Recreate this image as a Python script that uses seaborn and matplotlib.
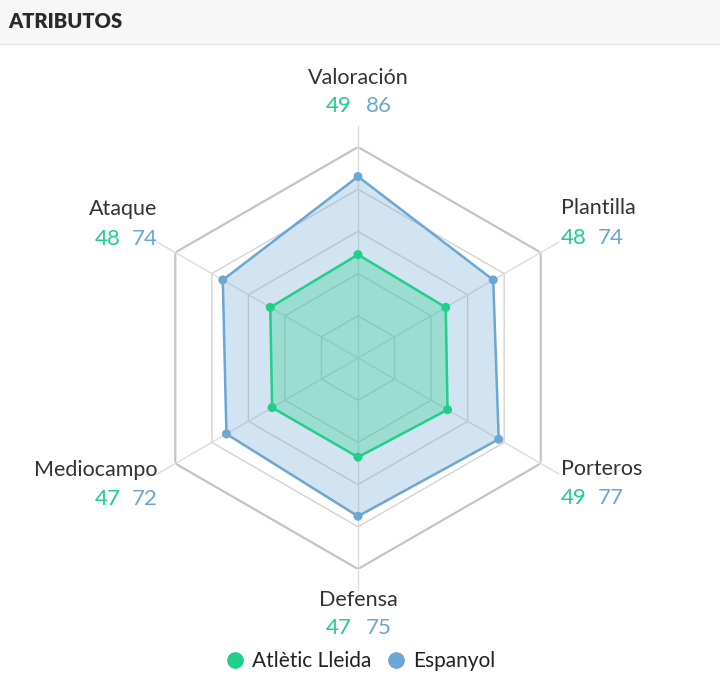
import numpy as np
import seaborn as sns
import matplotlib.pyplot as plt
from matplotlib.lines import Line2D
from matplotlib.patches import Rectangle

sns.set_style("white")
plt.rcParams['font.family'] = ['Lato', 'DejaVu Sans']

# data
attributes = ['Valoración', 'Plantilla', 'Porteros', 'Defensa', 'Mediocampo', 'Ataque']
lleida = [49, 48, 49, 47, 47, 48]
espanyol = [86, 74, 77, 75, 72, 74]
teams = ['Atlètic Lleida', 'Espanyol']
levels = [20, 40, 60, 80, 100]

green = '#1fcf8a'
blue = '#6ca6d3'
text_dark = '#333333'

fig = plt.figure(figsize=(7.2, 6.88), dpi=100)

# header band
fig.patches.append(Rectangle((0, 1 - 44 / 688), 1, 44 / 688, transform=fig.transFigure,
                             facecolor='#f7f7f7', edgecolor='none', zorder=0))
fig.lines.append(Line2D([0, 1], [1 - 44 / 688, 1 - 44 / 688], transform=fig.transFigure,
                        color='#e6e6e6', lw=1))
fig.text(8 / 720, 1 - 21 / 688, 'ATRIBUTOS', fontsize=14.5, fontweight='heavy',
         color='#2a2a2a', va='center', ha='left')

ax = fig.add_axes([147 / 720, 119 / 688, 422 / 720, 422 / 688], projection='polar')
ax.set_theta_offset(np.pi / 2)
ax.set_theta_direction(-1)
ax.set_ylim(0, 100)
ax.grid(False)
ax.spines['polar'].set_visible(False)
ax.set_xticks([])
ax.set_yticks([])

n = len(attributes)
theta = np.linspace(0, 2 * np.pi, n, endpoint=False)
theta_closed = np.append(theta, theta[0])

# hexagon grid
for lv in levels:
    ax.plot(theta_closed, [lv] * (n + 1), color='#c4c4c4' if lv == 100 else '#d3d3d3',
            lw=1.6 if lv == 100 else 1.0, zorder=1)
for t in theta:
    ax.plot([t, t], [0, 110], color='#dcdcdc', lw=1.0, zorder=1, clip_on=False)

# series
for vals, col, a in [(espanyol, blue, 0.3), (lleida, green, 0.3)]:
    v = np.append(vals, vals[0])
    ax.fill(theta_closed, v, color=col, alpha=a, zorder=2, lw=0)
    ax.plot(theta_closed, v, color=col, lw=1.8, zorder=3)
    sns.scatterplot(x=theta, y=vals, ax=ax, color=col, s=42, edgecolor='none', zorder=4,
                    legend=False)

# labels
placements = {
    0: dict(dx=0, dy_lab=69, dy_num=41, align='center'),
    1: dict(dx=20, dy_lab=44, dy_num=14, align='left'),
    2: dict(dx=20, dy_lab=-6, dy_num=-35, align='left'),
    3: dict(dx=0, dy_lab=-31, dy_num=-59, align='center'),
    4: dict(dx=-18, dy_lab=-6, dy_num=-35, align='right'),
    5: dict(dx=-18, dy_lab=44, dy_num=14, align='right'),
}
for i, name in enumerate(attributes):
    p = placements[i]
    kw = dict(xy=(theta[i], 100), textcoords='offset pixels', va='center',
              annotation_clip=False)
    ax.annotate(name, xytext=(p['dx'], p['dy_lab']), ha=p['align'], color=text_dark,
                fontsize=15.5, **kw)
    kw['fontsize'] = 16
    g, b = str(lleida[i]), str(espanyol[i])
    if p['align'] == 'center':
        ax.annotate(g, xytext=(-6, p['dy_num']), ha='right', color=green, **kw)
        ax.annotate(b, xytext=(8, p['dy_num']), ha='left', color=blue, **kw)
    elif p['align'] == 'left':
        ax.annotate(g, xytext=(p['dx'], p['dy_num']), ha='left', color=green, **kw)
        ax.annotate(b, xytext=(p['dx'] + 37, p['dy_num']), ha='left', color=blue, **kw)
    else:
        ax.annotate(g, xytext=(p['dx'] - 37, p['dy_num']), ha='right', color=green, **kw)
        ax.annotate(b, xytext=(p['dx'], p['dy_num']), ha='right', color=blue, **kw)

handles = [Line2D([], [], marker='o', ls='none', color=c, markersize=11) for c in (green, blue)]
fig.legend(handles, teams, loc='center', bbox_to_anchor=(0.5, 1 - 661 / 688), ncol=2,
           frameon=False, fontsize=15, handlelength=1.0, handletextpad=0.3,
           columnspacing=0.7, labelcolor='#222222')

fig.savefig('out.png', dpi=100)
